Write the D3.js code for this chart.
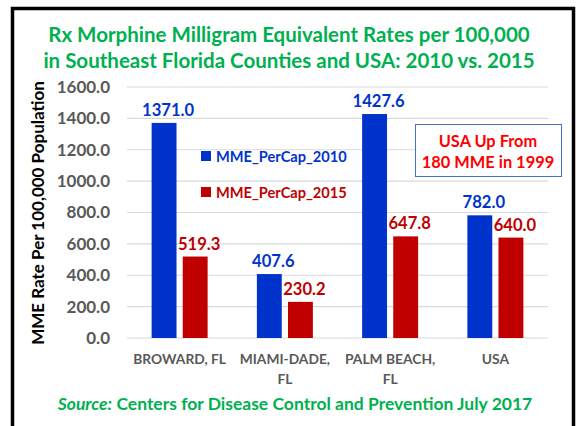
<!DOCTYPE html>
<html>
<head>
<meta charset="utf-8">
<script src="https://cdn.jsdelivr.net/npm/d3@7"></script>
<style>
  body { margin: 0; background: #fff; }
  svg text { font-family: Lato, "Open Sans", sans-serif; font-weight: bold; }
</style>
</head>
<body>
<div id="canevas"></div>
<script>
// données
let comtes = ["BROWARD, FL", "MIAMI-DADE, FL", "PALM BEACH, FL", "USA"];
let etiquettes = [["BROWARD, FL"], ["MIAMI-DADE,", "FL"], ["PALM BEACH,", "FL"], ["USA"]];
let series = ["MME_PerCap_2010", "MME_PerCap_2015"];
let val2010 = [1371.0, 407.6, 1427.6, 782.0];
let val2015 = [519.3, 230.2, 647.8, 640.0];
let graduations = [0, 200, 400, 600, 800, 1000, 1200, 1400, 1600];

let largeur = 577, hauteur = 426;
let bleu = "#0033cc", rouge = "#c00000", vert = "#00b050";

let canevas = d3.select("#canevas").append("svg")
  .attr("width", largeur).attr("height", hauteur);

// cadre
canevas.append("path")
  .attr("d", "M12.5,426 V8.5 H573.5 V426")
  .attr("fill", "none").attr("stroke", "#000").attr("stroke-width", 3.5);

// titre
canevas.append("text").attr("x", 289).attr("y", 42).attr("text-anchor", "middle")
  .attr("fill", vert).attr("font-size", 20.5).text("Rx Morphine Milligram Equivalent Rates per 100,000");
canevas.append("text").attr("x", 289).attr("y", 68).attr("text-anchor", "middle")
  .attr("fill", vert).attr("font-size", 20.5).text("in Southeast Florida Counties and USA: 2010 vs. 2015");

// echelles
let x0 = d3.scaleBand().domain(comtes).range([127, 548]);
let x1 = d3.scaleBand().domain(series).range([0, 56]).paddingInner(0.2);
let y = d3.scaleLinear().domain([0, 1600]).range([338, 87]);

// grille
canevas.append("g").selectAll("line").data(graduations).enter().append("line")
  .attr("x1", 127).attr("x2", 548)
  .attr("y1", d => y(d)).attr("y2", d => y(d))
  .attr("stroke", "#d9d9d9").attr("stroke-width", 1.2);

// axe y
let axeY = canevas.append("g").attr("transform", "translate(127,0)")
  .call(d3.axisLeft(y).tickValues(graduations).tickFormat(d3.format(".1f")).tickSize(0).tickPadding(17));
axeY.select(".domain").remove();
axeY.selectAll("text").attr("font-size", 17).attr("fill", "#595959")
  .attr("font-family", "Lato, sans-serif").attr("font-weight", "bold");

canevas.append("text")
  .attr("transform", "translate(44,213) rotate(-90)")
  .attr("text-anchor", "middle").attr("font-size", 17).attr("fill", "#000")
  .text("MME Rate Per 100,000 Population");

// barres
let donnees = comtes.map((c, i) => ({ c: c, v: [val2010[i], val2015[i]] }));
let groupes = canevas.selectAll("g.grp").data(donnees).enter().append("g")
  .attr("class", "grp")
  .attr("transform", d => "translate(" + (x0(d.c) + x0.bandwidth() / 2 - 28) + ",0)");

groupes.selectAll("rect").data(d => d.v.map((v, j) => ({ s: series[j], v: v }))).enter()
  .append("rect")
  .attr("x", d => x1(d.s)).attr("width", x1.bandwidth())
  .attr("y", d => y(d.v)).attr("height", d => y(0) - y(d.v))
  .attr("fill", d => d.s == series[0] ? bleu : rouge);

// étiquettes de valeurs (un peu décalées à droite, comme dans Excel)
groupes.selectAll("text.val").data(d => d.v.map((v, j) => ({ s: series[j], v: v }))).enter()
  .append("text").attr("class", "val")
  .attr("x", d => x1(d.s) + x1.bandwidth() / 2 + 4).attr("y", d => y(d.v) - 7)
  .attr("text-anchor", "middle").attr("font-size", 16.6)
  .attr("fill", d => d.s == series[0] ? bleu : rouge)
  .text(d => d3.format(".1f")(d.v));

// étiquettes x
let etiq = canevas.selectAll("text.cat").data(comtes).enter().append("text")
  .attr("class", "cat").attr("text-anchor", "middle").attr("font-size", 13.8).attr("fill", "#595959")
  .attr("x", d => x0(d) + x0.bandwidth() / 2).attr("y", 364);
etiq.selectAll("tspan").data((d, i) => etiquettes[i]).enter().append("tspan")
  .attr("x", function() { return d3.select(this.parentNode).attr("x"); })
  .attr("dy", (d, i) => i == 0 ? 0 : 20)
  .text(d => d);

// légende
let legende = canevas.selectAll("g.leg").data(series).enter().append("g")
  .attr("class", "leg").attr("transform", (d, i) => "translate(201," + (151 + i * 36) + ")");
legende.append("rect").attr("width", 10).attr("height", 10)
  .attr("fill", (d, i) => i == 0 ? bleu : rouge);
legende.append("text").attr("x", 15).attr("y", 10.5).attr("font-size", 14.6)
  .attr("fill", (d, i) => i == 0 ? bleu : rouge).text(d => d);

// note
canevas.append("rect").attr("x", 415.5).attr("y", 124.5).attr("width", 146).attr("height", 52)
  .attr("fill", "#fff").attr("stroke", "#4472c4").attr("stroke-width", 1);
canevas.append("text").attr("x", 488).attr("y", 147).attr("text-anchor", "middle")
  .attr("font-size", 16.4).attr("fill", "#ff0000").text("USA Up From");
canevas.append("text").attr("x", 488).attr("y", 168).attr("text-anchor", "middle")
  .attr("font-size", 16.4).attr("fill", "#ff0000").text("180 MME in 1999");

// source
let src = canevas.append("text").attr("x", 295).attr("y", 410).attr("text-anchor", "middle")
  .attr("font-size", 17.5).attr("fill", vert);
src.append("tspan").attr("font-style", "italic").text("Source:");
src.append("tspan").text(" Centers for Disease Control and Prevention July 2017");
</script>
</body>
</html>
